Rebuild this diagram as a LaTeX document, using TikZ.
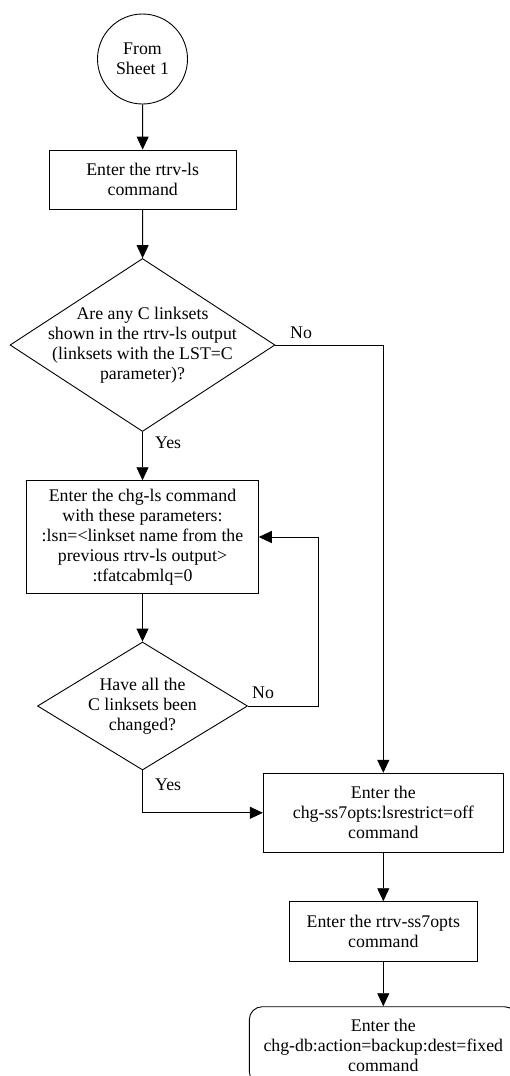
\documentclass[tikz,border=0pt]{standalone}
\usepackage{fontspec}
\setmainfont{Liberation Serif}
\usetikzlibrary{shapes.geometric,arrows.meta}
\begin{document}
\begin{tikzpicture}[x=1pt,y=-1pt,
  every node/.style={font=\fontsize{17.8}{20}\selectfont, align=center},
  box/.style={draw, line width=0.9pt, inner sep=0pt},
  dia/.style={draw, line width=0.9pt, diamond, inner sep=0pt},
  lbl/.style={anchor=west, inner sep=0pt},
  arr/.style={line width=0.9pt, -{Triangle[length=13pt,width=12pt]}}]
\useasboundingbox (0,0) rectangle (510,1076);
\fill[white] (0,0) rectangle (510,1076);
\clip (0,0) rectangle (510,1076);
\node[draw, line width=0.9pt, circle, minimum size=90pt, inner sep=0pt] (c) at (142.5,59) {From\\Sheet 1};
\node[box, minimum width=186.7pt, minimum height=59.3pt] (b1) at (142.7,179.7) {Enter the rtrv-ls\\command};
\node[dia, minimum width=265pt, minimum height=173pt] (d1) at (142.5,345) {};
\node at (d1) {Are any C linksets\\shown in the rtrv-ls output\\(linksets with the LST=C\\parameter)?};
\node[box, minimum width=231.6pt, minimum height=112.6pt] (b2) at (142.5,537) {Enter the chg-ls command\\with these parameters:\\:lsn=<linkset name from the\\previous rtrv-ls output>\\:tfatcabmlq=0};
\node[dia, minimum width=210pt, minimum height=128pt] (d2) at (142.5,706) {};
\node at (d2) {Have all the\\C linksets been\\changed?};
\node[box, minimum width=240pt, minimum height=79pt] (b3) at (383.3,812.8) {Enter the\\chg-ss7opts:lsrestrict=off\\command};
\node[box, minimum width=187.4pt, minimum height=60pt] (b4) at (383.3,931.7) {Enter the rtrv-ss7opts\\command};
\node[box, rounded corners=13pt, minimum width=268pt, minimum height=78pt] (b5) at (383.3,1045.7) {Enter the\\chg-db:action=backup:dest=fixed\\command};
\node[lbl] (n1) at (290,333) {No};
\node[lbl] (y1) at (155,443) {Yes};
\node[lbl] (n2) at (252,693) {No};
\node[lbl] (y2) at (155,785) {Yes};
\draw[arr] (c) -- (b1);
\draw[arr] (b1) -- (d1);
\draw[arr] (d1.east) -| (b3.north);
\draw[arr] (d1.south) -- (b2.north);
\draw[arr] (b2) -- (d2);
\draw[arr] (d2.east) -- ++(70,0) |- (b2.east);
\draw[arr] (d2.south) |- (b3.west);
\draw[arr] (b3) -- (b4);
\draw[arr] (b4) -- (b5);
\end{tikzpicture}
\end{document}
